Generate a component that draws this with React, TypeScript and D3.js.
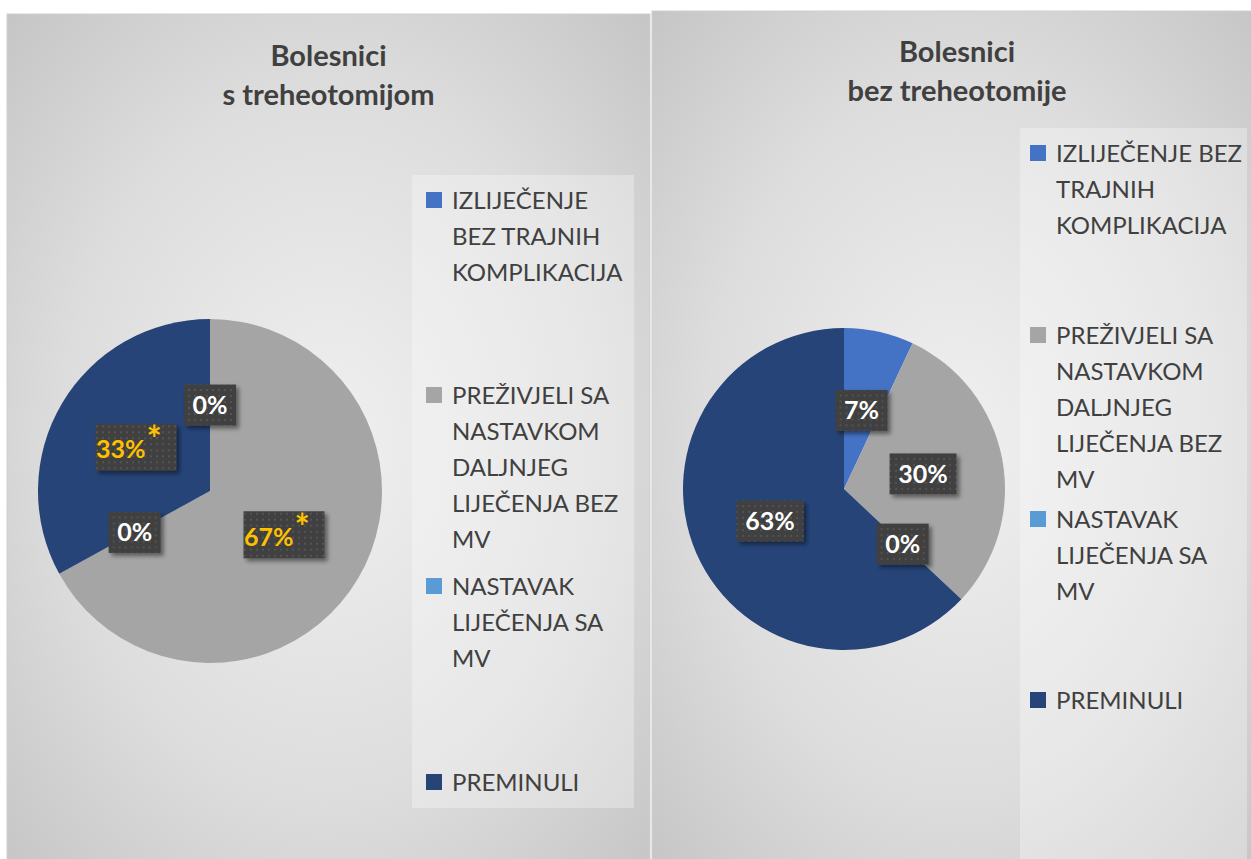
import React from "react";
import * as d3 from "d3";

const categories = [
  "IZLIJEČENJE BEZ TRAJNIH KOMPLIKACIJA",
  "PREŽIVJELI SA NASTAVKOM DALJNJEG LIJEČENJA BEZ MV",
  "NASTAVAK LIJEČENJA SA MV",
  "PREMINULI",
];
const colors = ["#4472C4", "#A5A5A5", "#5B9BD5", "#264478"];

const withTracheoValues = [0, 67, 0, 33];
const withTracheoStar = [false, true, false, true];
const withoutTracheoValues = [7, 30, 0, 63];
const withoutTracheoStar = [false, false, false, false];

const leftTitle = ["Bolesnici", "s treheotomijom"];
const rightTitle = ["Bolesnici", "bez treheotomije"];

const leftLegendLines = [
  ["IZLIJEČENJE", "BEZ TRAJNIH", "KOMPLIKACIJA"],
  ["PREŽIVJELI SA", "NASTAVKOM", "DALJNJEG", "LIJEČENJA BEZ", "MV"],
  ["NASTAVAK", "LIJEČENJA SA", "MV"],
  ["PREMINULI"],
];
const rightLegendLines = [
  ["IZLIJEČENJE BEZ", "TRAJNIH", "KOMPLIKACIJA"],
  ["PREŽIVJELI SA", "NASTAVKOM", "DALJNJEG", "LIJEČENJA BEZ", "MV"],
  ["NASTAVAK", "LIJEČENJA SA", "MV"],
  ["PREMINULI"],
];

type PanelProps = {
  id: string;
  x: number;
  y: number;
  w: number;
  h: number;
  title: string[];
  titleY: number;
  values: number[];
  stars: boolean[];
  cx: number;
  cy: number;
  r: number;
  legend: string[][];
  legendBox: { x: number; y: number; w: number; h: number };
  legendX: number;
  legendItemY: number[];
};

const FONT = "Lato, 'Open Sans', sans-serif";

function Panel(p: PanelProps) {
  const pie = d3
    .pie<number>()
    .sort(null)
    .value((d) => d)
    .startAngle(0)
    .endAngle(2 * Math.PI);
  const arcs = pie(p.values);
  const arc = d3.arc<d3.PieArcDatum<number>>().innerRadius(0).outerRadius(p.r);
  const total = d3.sum(p.values);
  const fmt = d3.format(".0%");
  const lineH = 36;
  return (
    <g>
      <rect x={p.x} y={p.y} width={p.w} height={p.h} fill={`url(#bg-${p.id})`} stroke="#d0d0d0" strokeWidth={1} />
      {p.title.map((t, i) => (
        <text
          key={i}
          x={p.x + p.w / 2}
          y={p.titleY + i * 39}
          textAnchor="middle"
          fontFamily={FONT}
          fontWeight={700}
          fontSize={29}
          fill="#404040"
        >
          {t}
        </text>
      ))}
      <g transform={`translate(${p.cx},${p.cy})`}>
        {arcs.map((a, i) => (
          <path key={i} d={arc(a) || ""} fill={colors[i]} />
        ))}
        {arcs.map((a, i) => {
          const [lx, ly] = arc.centroid(a);
          const txt = fmt(a.data / total);
          const star = p.stars[i];
          const tw = txt.length * 15 + (star ? 14 : 0);
          const bw = tw + 22;
          const bh = star ? 47 : 41;
          return (
            <g key={"l" + i} transform={`translate(${lx},${ly})`}>
              <rect
                x={-bw / 2}
                y={-bh / 2}
                width={bw}
                height={bh}
                fill="url(#dots)"
                filter="url(#shadow)"
              />
              <text
                x={star ? -7 : 0}
                y={star ? 11 : 9}
                textAnchor="middle"
                fontFamily={FONT}
                fontWeight={700}
                fontSize={25}
                fill={star ? "#FFC000" : "#FFFFFF"}
              >
                {txt}
                {star ? (
                  <tspan dy={-6} dx={1} fontSize={36}>
                    *
                  </tspan>
                ) : null}
              </text>
            </g>
          );
        })}
      </g>
      <rect
        x={p.legendBox.x}
        y={p.legendBox.y}
        width={p.legendBox.w}
        height={p.legendBox.h}
        fill="#ffffff"
        opacity={0.3}
      />
      {p.legend.map((lines, i) => (
        <g key={"lg" + i}>
          <rect x={p.legendX} y={p.legendItemY[i] - 8} width={16} height={16} fill={colors[i]} />
          {lines.map((ln, j) => (
            <text
              key={j}
              x={p.legendX + 26}
              y={p.legendItemY[i] + j * lineH + 9}
              fontFamily={FONT}
              fontSize={24}
              fill="#404040"
            >
              {ln}
            </text>
          ))}
        </g>
      ))}
    </g>
  );
}

export default function App() {
  return (
    <svg
      width={1251}
      height={859}
      style={{ position: "fixed", left: 0, top: 0, background: "#ffffff" }}
    >
      <defs>
        {["left", "right"].map((id) => (
          <radialGradient key={id} id={`bg-${id}`} cx="50%" cy="50%" r="75%">
            <stop offset="0%" stopColor="#f0f0f0" />
            <stop offset="55%" stopColor="#dddddd" />
            <stop offset="100%" stopColor="#c2c2c2" />
          </radialGradient>
        ))}
        <pattern id="dots" width={6} height={6} patternUnits="userSpaceOnUse">
          <rect width={6} height={6} fill="#404040" />
          <circle cx={3} cy={3} r={0.9} fill="#5a5a5a" />
        </pattern>
        <filter id="shadow" x="-30%" y="-30%" width="160%" height="160%">
          <feDropShadow dx={3} dy={3} stdDeviation={2} floodColor="#000" floodOpacity={0.45} />
        </filter>
      </defs>
      <Panel
        id="left"
        x={7}
        y={14}
        w={643}
        h={860}
        title={leftTitle}
        titleY={66}
        values={withTracheoValues}
        stars={withTracheoStar}
        cx={210}
        cy={491}
        r={172}
        legend={leftLegendLines}
        legendBox={{ x: 412, y: 175, w: 222, h: 633 }}
        legendX={426}
        legendItemY={[200, 395, 586, 782]}
      />
      <Panel
        id="right"
        x={652}
        y={11}
        w={610}
        h={860}
        title={rightTitle}
        titleY={62}
        values={withoutTracheoValues}
        stars={withoutTracheoStar}
        cx={844}
        cy={489}
        r={161}
        legend={rightLegendLines}
        legendBox={{ x: 1020, y: 128, w: 227, h: 740 }}
        legendX={1030}
        legendItemY={[153, 335, 519, 700]}
      />
    </svg>
  );
}
